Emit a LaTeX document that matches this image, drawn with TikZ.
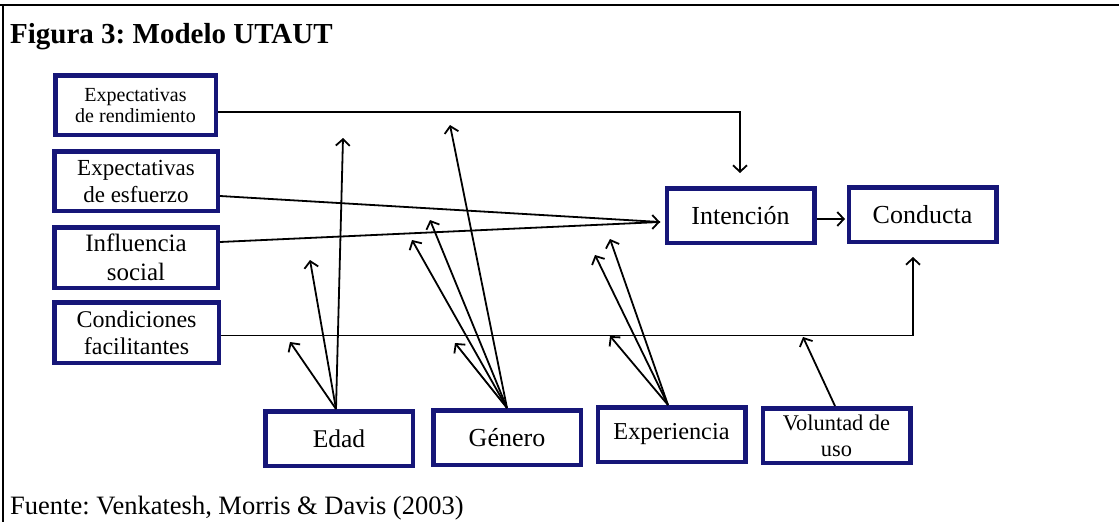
\documentclass[tikz,border=0pt]{standalone}
\usepackage{fontspec}
\setmainfont{Liberation Serif}
\usetikzlibrary{arrows.meta}
\definecolor{boxblue}{RGB}{22,22,120}
\frenchspacing
\tikzset{
  box/.style={draw=boxblue, line width=4.5pt, fill=white, inner sep=0pt,
    align=center, minimum width=147.5pt, minimum height=54.5pt},
  leftbox/.style={box, minimum width=163.5pt, minimum height=59.5pt},
  link/.style={draw=black, line width=1.8pt,
    -{Straight Barb[length=6.5pt,width=14pt,line width=1.8pt]}},
  plain/.style={draw=black, line width=1.8pt},
}
\begin{document}
\begin{tikzpicture}[x=1pt,y=-1pt]
  \useasboundingbox (0,0) rectangle (1119,522);
  \fill[white] (0,0) rectangle (1119,522);
  % frame
  \draw[line width=2pt] (0,5) -- (1119,5);
  \draw[line width=2pt] (3,5) -- (3,522);

  % captions
  \node[anchor=base west, inner sep=0pt, font=\fontsize{29}{32}\selectfont\bfseries]
    (title) at (10,43) {Figura 3: Modelo UTAUT};
  \node[anchor=base west, inner sep=0pt, font=\fontsize{26.5}{30}\selectfont]
    (source) at (10,514) {Fuente: Venkatesh, Morris \& Davis (2003)};

  % determinants
  \node[leftbox, minimum width=160.5pt, font=\fontsize{20}{21}\selectfont]
    (perf) at (135.5,105) {Expectativas\\de rendimiento};
  \node[leftbox, font=\fontsize{23}{27}\selectfont]
    (effort) at (136,181) {Expectativas\\de esfuerzo};
  \node[leftbox, minimum height=60.5pt, font=\fontsize{25}{29}\selectfont]
    (social) at (136,257.5) {Influencia\\social};
  \node[leftbox, minimum width=164.5pt, minimum height=60.5pt, font=\fontsize{24}{27}\selectfont]
    (cond) at (136.5,332.5) {Condiciones\\facilitantes};

  % outcomes
  \node[box, font=\fontsize{26}{28}\selectfont] (intent) at (740.5,215.5) {Intención};
  \node[box, font=\fontsize{26}{28}\selectfont] (behav) at (922.5,214.5) {Conducta};

  % moderators
  \node[box, font=\fontsize{25.5}{28}\selectfont] (age) at (339,438.5) {Edad};
  \node[box, font=\fontsize{26}{28}\selectfont] (gender) at (507,437.5) {Género};
  \node[box, font=\fontsize{24.3}{27}\selectfont] (exper) at (671.5,434.5) {Experiencia};
  \node[box, font=\fontsize{22.4}{26}\selectfont] (volun) at (836.5,435.5) {Voluntad de\\uso};

  % arrow ends
  \coordinate (tPerf) at (740,173);
  \coordinate (tIntent) at (660,222);
  \coordinate (tBehav) at (913,257);
  \coordinate (tIB) at (845,219);
  \coordinate (a1) at (343,138);
  \coordinate (a2) at (310,260);
  \coordinate (a3) at (290,342);
  \coordinate (g1) at (450,125);
  \coordinate (g2) at (430,220);
  \coordinate (g3) at (412,240);
  \coordinate (g4) at (455,343);
  \coordinate (e1) at (610,239);
  \coordinate (e2) at (595,255);
  \coordinate (e3) at (610,336);
  \coordinate (v1) at (803,337);

  % main paths
  \draw[link] ([yshift=-7pt]perf.east) -| (tPerf);
  \draw[plain] ([yshift=-15pt]effort.east) -- (tIntent);
  \draw[plain] ([yshift=15.5pt]social.east) -- (tIntent);
  \draw[link] ([xshift=-4pt]tIntent) -- (tIntent);
  \draw[link] ([yshift=-3pt]cond.east) -| (tBehav);
  \draw[link] ([yshift=-3.5pt]intent.east) -- (tIB);

  % moderating effects
  \draw[link] ([xshift=-3pt]age.north) -- (a1);
  \draw[link] ([xshift=-3pt]age.north) -- (a2);
  \draw[link] ([xshift=-3pt]age.north) -- (a3);
  \draw[link] (gender.north) -- (g1);
  \draw[link] (gender.north) -- (g2);
  \draw[link] (gender.north) -- (g3);
  \draw[link] (gender.north) -- (g4);
  \draw[link] ([xshift=-3.5pt]exper.north) -- (e1);
  \draw[link] ([xshift=-3.5pt]exper.north) -- (e2);
  \draw[link] ([xshift=-3.5pt]exper.north) -- (e3);
  \draw[link] ([xshift=-1.5pt]volun.north) -- (v1);
\end{tikzpicture}
\end{document}
